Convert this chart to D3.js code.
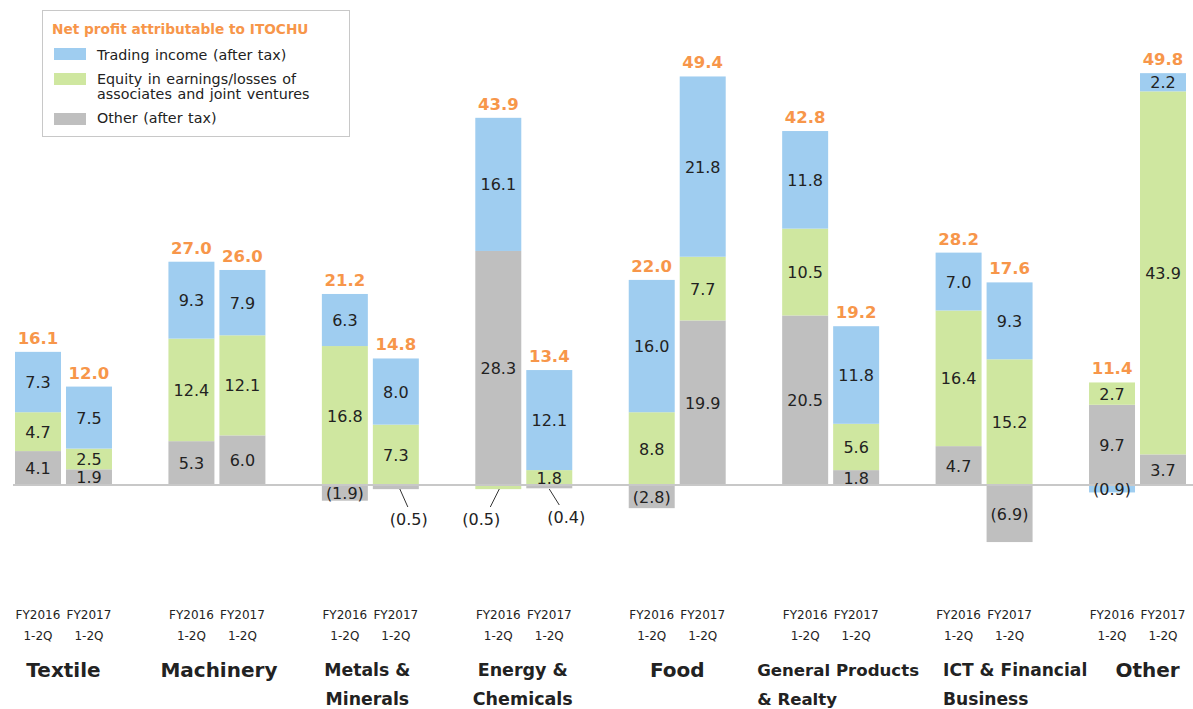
<!DOCTYPE html>
<html>
<head>
<meta charset="utf-8">
<script src="https://cdn.jsdelivr.net/npm/d3@7/dist/d3.min.js"></script>
<style>
  html, body { margin: 0; padding: 0; background: #fff; }
  svg { display: block; font-family: "DejaVu Sans", Verdana, sans-serif; }
</style>
</head>
<body>
<svg id="chart" width="1193" height="709"></svg>
<script>
// ---------- DATA ----------
const categories = ["Textile", "Machinery", "Metals & Minerals", "Energy & Chemicals", "Food",
  "General Products & Realty", "ICT & Financial Business", "Other"];
const categoryLines = [["Textile"], ["Machinery"], ["Metals &", "Minerals"], ["Energy &", "Chemicals"],
  ["Food"], ["General Products", "& Realty"], ["ICT & Financial", "Business"], ["Other"]];
const periods = ["FY2016", "FY2017"];
const periodSub = ["1-2Q", "1-2Q"];
const seriesNames = ["Trading income (after tax)", "Equity in earnings/losses of associates and joint ventures", "Other (after tax)"];
// values per category: [FY2016, FY2017]
const tradingIncome = [[7.3, 7.5], [9.3, 7.9], [6.3, 8.0], [16.1, 12.1], [16.0, 21.8], [11.8, 11.8], [7.0, 9.3], [-0.9, 2.2]];
const equityEarnings = [[4.7, 2.5], [12.4, 12.1], [16.8, 7.3], [-0.5, 1.8], [8.8, 7.7], [10.5, 5.6], [16.4, 15.2], [2.7, 43.9]];
const otherAfterTax = [[4.1, 1.9], [5.3, 6.0], [-1.9, -0.5], [28.3, -0.4], [-2.8, 19.9], [20.5, 1.8], [4.7, -6.9], [9.7, 3.7]];
const netProfit = [[16.1, 12.0], [27.0, 26.0], [21.2, 14.8], [43.9, 13.4], [22.0, 49.4], [42.8, 19.2], [28.2, 17.6], [11.4, 49.8]];

// ---------- LAYOUT / STYLE ----------
const colors = { trading: "#9fcdf0", equity: "#cfe7a0", other: "#bfbfbf" };
const orange = "#f7964a";
const textColor = "#222";
const W = 1193, H = 709;
const baseY = 485;
// callouts for tiny values drawn outside the bar
const callouts = [
  { c: 2, p: 1, key: "other", dx: 13, dy: 34, lx1: 4, ly1: 4, lx2: 12, ly2: 22 },
  { c: 3, p: 0, key: "equity", dx: -17, dy: 34, lx1: 1, ly1: 4, lx2: -8, ly2: 22 },
  { c: 3, p: 1, key: "other", dx: 17, dy: 32, lx1: 0, ly1: 4, lx2: 10, ly2: 20 }
];
const catLabelLayout = [
  { anchor: "middle", dx: 0, fs: 20 }, { anchor: "middle", dx: 2, fs: 20 }, { anchor: "middle", dx: -3, fs: 17.3 },
  { anchor: "middle", dx: -1, fs: 17.5 }, { anchor: "middle", dx: 0, fs: 20 }, { anchor: "start", dx: -73.5, fs: 16.6 },
  { anchor: "start", dx: -41, fs: 17.1 }, { anchor: "middle", dx: 10, fs: 20 }
];

const svg = d3.select("#chart");

const x0 = d3.scaleBand().domain(categories).range([15, 1186]).paddingInner(0.368).paddingOuter(0);
const x1 = d3.scaleBand().domain(periods).range([0, x0.bandwidth()]).paddingInner(0.098).paddingOuter(0);
const y = d3.scaleLinear().domain([0, 50]).range([baseY, baseY - 413.5]);

// build rows
const rows = [];
categories.forEach((cat, i) => {
  periods.forEach((per, j) => {
    rows.push({ cat, per, ci: i, pj: j,
      other: otherAfterTax[i][j], equity: equityEarnings[i][j], trading: tradingIncome[i][j],
      total: netProfit[i][j] });
  });
});
const keys = ["other", "equity", "trading"];
const stack = d3.stack().keys(keys).offset(d3.stackOffsetDiverging);
const stacked = stack(rows);

const fmt = v => v < 0 ? "(" + Math.abs(v).toFixed(1) + ")" : v.toFixed(1);
const barX = d => x0(d.data.cat) + x1(d.data.per);

// bars
const gBars = svg.append("g");
stacked.forEach(layer => {
  gBars.selectAll(null).data(layer).join("rect")
    .attr("x", d => barX(d))
    .attr("width", x1.bandwidth())
    .attr("y", d => y(Math.max(d[0], d[1])))
    .attr("height", d => Math.abs(y(d[0]) - y(d[1])))
    .attr("fill", colors[layer.key]);
});

// baseline
svg.append("line")
  .attr("x1", 13).attr("x2", W).attr("y1", y(0)).attr("y2", y(0))
  .attr("stroke", "#c8c8c8").attr("stroke-width", 2);

// value labels
const isCallout = (d, key) => callouts.find(c => c.c === d.data.ci && c.p === d.data.pj && c.key === key);
const gLab = svg.append("g").attr("font-size", 16).attr("fill", textColor).attr("text-anchor", "middle");
stacked.forEach(layer => {
  layer.forEach(d => {
    const v = d.data[layer.key];
    const cx = barX(d) + x1.bandwidth() / 2;
    const co = isCallout(d, layer.key);
    if (co) {
      gLab.append("line")
        .attr("x1", cx + co.lx1).attr("y1", y(0) + co.ly1)
        .attr("x2", cx + co.lx2).attr("y2", y(0) + co.ly2)
        .attr("stroke", "#333").attr("stroke-width", 1);
      gLab.append("text").attr("x", cx + co.dx).attr("y", y(0) + co.dy + 6).text(fmt(v));
    } else {
      const cy = (y(d[0]) + y(d[1])) / 2;
      gLab.append("text").attr("x", cx).attr("y", cy + 6).text(fmt(v));
    }
  });
});

// totals (placed above the positive stack)
const tops = rows.map(r => {
  let t = 0;
  keys.forEach(kk => { if (r[kk] > 0) t += r[kk]; });
  return t;
});
svg.append("g").attr("font-size", 16.5).attr("font-weight", "bold").attr("fill", orange).attr("text-anchor", "middle")
  .selectAll("text").data(rows).join("text")
  .attr("x", d => x0(d.cat) + x1(d.per) + x1.bandwidth() / 2)
  .attr("y", (d, k) => y(tops[k]) - 8)
  .text(d => d.total.toFixed(1));

// period tick labels
const gTick = svg.append("g").attr("font-size", 12).attr("fill", textColor).attr("text-anchor", "middle");
categories.forEach(cat => {
  periods.forEach((per, j) => {
    const cx = x0(cat) + x1(per) + x1.bandwidth() / 2;
    gTick.append("text").attr("x", cx).attr("y", 619).text(per);
    gTick.append("text").attr("x", cx).attr("y", 640).text(periodSub[j]);
  });
});

// category labels
const gCat = svg.append("g").attr("font-weight", "bold").attr("fill", textColor);
categories.forEach((cat, i) => {
  const lines = categoryLines[i];
  const lay = catLabelLayout[i];
  const cx = x0(cat) + x0.bandwidth() / 2 + lay.dx;
  lines.forEach((ln, k) => {
    gCat.append("text")
      .attr("x", cx).attr("y", (lines.length > 1 ? 676 : 677) + k * 29)
      .attr("font-size", lay.fs).attr("text-anchor", lay.anchor)
      .text(ln);
  });
});

// legend
const lg = svg.append("g");
lg.append("rect").attr("x", 42.5).attr("y", 10.5).attr("width", 307).attr("height", 126)
  .attr("fill", "#fff").attr("stroke", "#c8c8c8").attr("stroke-width", 1);
lg.append("text").attr("x", 52).attr("y", 34).attr("font-size", 13.7).attr("font-weight", "bold")
  .attr("fill", orange).text("Net profit attributable to ITOCHU");
const legItems = [
  { key: "trading", lines: ["Trading income (after tax)"], sy: 48, ty: 60 },
  { key: "equity", lines: ["Equity in earnings/losses of", "associates and joint ventures"], sy: 73, ty: 84 },
  { key: "other", lines: ["Other (after tax)"], sy: 113, ty: 123 }
];
legItems.forEach(it => {
  lg.append("rect").attr("x", 54).attr("y", it.sy).attr("width", 32).attr("height", 12).attr("fill", colors[it.key]);
  it.lines.forEach((ln, k) => {
    lg.append("text").attr("x", 97).attr("y", it.ty + k * 15).attr("font-size", 14.3)
      .attr("word-spacing", 1).attr("fill", textColor).text(ln);
  });
});
</script>
</body>
</html>
